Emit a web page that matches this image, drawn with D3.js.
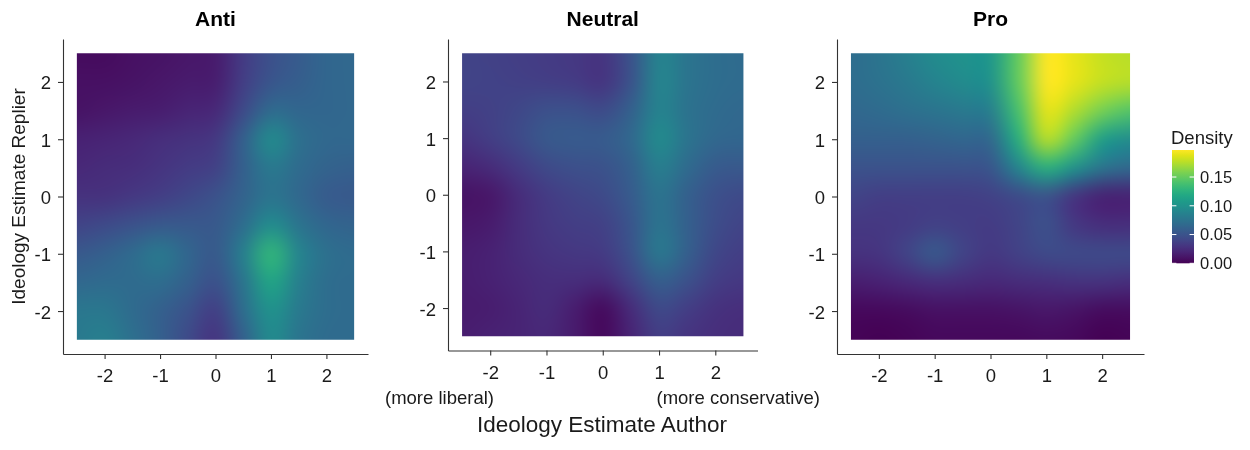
<!DOCTYPE html>
<html>
<head>
<meta charset="utf-8">
<script src="https://cdn.jsdelivr.net/npm/d3@7"></script>
<style>
    body { margin: 0; background: #fff; }
    #chart { position: relative; width: 1250px; height: 450px; }
    #chart canvas, #chart svg { position: absolute; left: 0; top: 0; }
    text { font-family: "Liberation Sans", Arial, sans-serif; }
</style>
</head>
<body>
<div id="chart"></div>
<script>
// Density grid: columns = author ideology, rows = replier ideology (top to bottom)
const gridX = [-2.5, -2, -1.5, -1, -0.5, 0, 0.5, 1, 1.5, 2, 2.5];
const gridY = [2.5, 2, 1.5, 1, 0.5, 0, -0.5, -1, -1.5, -2, -2.5];

const antiDensity = [
    [0.006, 0.006, 0.008, 0.010, 0.012, 0.014, 0.034, 0.048, 0.056, 0.064, 0.066],
    [0.008, 0.008, 0.010, 0.012, 0.014, 0.016, 0.036, 0.052, 0.058, 0.064, 0.066],
    [0.010, 0.012, 0.014, 0.016, 0.020, 0.022, 0.044, 0.068, 0.064, 0.064, 0.066],
    [0.018, 0.020, 0.022, 0.026, 0.028, 0.032, 0.060, 0.094, 0.072, 0.066, 0.066],
    [0.022, 0.024, 0.026, 0.030, 0.034, 0.038, 0.060, 0.080, 0.068, 0.062, 0.060],
    [0.028, 0.028, 0.032, 0.036, 0.042, 0.050, 0.062, 0.076, 0.066, 0.056, 0.054],
    [0.040, 0.044, 0.050, 0.054, 0.054, 0.054, 0.070, 0.096, 0.076, 0.064, 0.062],
    [0.054, 0.060, 0.068, 0.080, 0.064, 0.054, 0.084, 0.130, 0.090, 0.072, 0.068],
    [0.066, 0.068, 0.068, 0.070, 0.060, 0.048, 0.076, 0.116, 0.084, 0.070, 0.068],
    [0.078, 0.078, 0.068, 0.060, 0.050, 0.036, 0.070, 0.100, 0.080, 0.070, 0.068],
    [0.080, 0.084, 0.072, 0.060, 0.044, 0.030, 0.060, 0.094, 0.076, 0.068, 0.068]
];

const neutralDensity = [
    [0.040, 0.038, 0.036, 0.034, 0.032, 0.030, 0.050, 0.088, 0.076, 0.070, 0.068],
    [0.040, 0.039, 0.037, 0.036, 0.034, 0.030, 0.050, 0.090, 0.076, 0.070, 0.068],
    [0.036, 0.038, 0.042, 0.048, 0.048, 0.044, 0.060, 0.088, 0.074, 0.068, 0.066],
    [0.030, 0.036, 0.044, 0.054, 0.056, 0.056, 0.066, 0.094, 0.076, 0.066, 0.064],
    [0.020, 0.024, 0.034, 0.044, 0.048, 0.050, 0.060, 0.084, 0.068, 0.056, 0.054],
    [0.010, 0.012, 0.024, 0.034, 0.040, 0.044, 0.056, 0.076, 0.060, 0.048, 0.044],
    [0.012, 0.014, 0.024, 0.032, 0.036, 0.038, 0.052, 0.076, 0.060, 0.046, 0.040],
    [0.016, 0.018, 0.024, 0.030, 0.032, 0.034, 0.050, 0.080, 0.060, 0.042, 0.036],
    [0.016, 0.018, 0.022, 0.026, 0.026, 0.024, 0.040, 0.060, 0.050, 0.036, 0.032],
    [0.014, 0.016, 0.020, 0.024, 0.016, 0.006, 0.024, 0.044, 0.036, 0.028, 0.026],
    [0.016, 0.018, 0.020, 0.022, 0.014, 0.004, 0.020, 0.036, 0.030, 0.026, 0.024]
];

const proDensity = [
    [0.070, 0.076, 0.084, 0.094, 0.100, 0.104, 0.150, 0.200, 0.190, 0.180, 0.176],
    [0.070, 0.074, 0.080, 0.088, 0.094, 0.100, 0.150, 0.200, 0.190, 0.180, 0.176],
    [0.066, 0.068, 0.072, 0.076, 0.080, 0.084, 0.140, 0.190, 0.174, 0.156, 0.144],
    [0.060, 0.060, 0.060, 0.062, 0.064, 0.066, 0.124, 0.176, 0.150, 0.110, 0.096],
    [0.050, 0.050, 0.050, 0.050, 0.050, 0.052, 0.090, 0.124, 0.100, 0.076, 0.066],
    [0.040, 0.036, 0.036, 0.036, 0.036, 0.038, 0.044, 0.050, 0.030, 0.018, 0.018],
    [0.032, 0.032, 0.034, 0.038, 0.036, 0.034, 0.040, 0.048, 0.032, 0.026, 0.026],
    [0.028, 0.030, 0.040, 0.054, 0.040, 0.032, 0.038, 0.044, 0.044, 0.044, 0.044],
    [0.016, 0.018, 0.022, 0.026, 0.024, 0.022, 0.024, 0.026, 0.028, 0.028, 0.026],
    [0.004, 0.004, 0.006, 0.008, 0.008, 0.008, 0.010, 0.012, 0.010, 0.006, 0.006],
    [0.002, 0.000, 0.002, 0.004, 0.004, 0.004, 0.004, 0.006, 0.004, 0.000, 0.002]
];

const panelNames = ["Anti", "Neutral", "Pro"];
const axisTicks = [-2, -1, 0, 1, 2];
const legendTicks = [0, 0.05, 0.10, 0.15];
const densityMax = 0.197;

// Panel frames (pixels)
const frames = [
    { left: 63, right: 368, top: 39, bottom: 354 },
    { left: 448, right: 757.5, top: 39, bottom: 350.5 },
    { left: 837, right: 1144, top: 39, bottom: 354 }
];
const panelValues = [antiDensity, neutralDensity, proDensity];

const W = 1250, H = 450;
const step = gridX[1] - gridX[0];

const color = d3.scaleSequential(d3.interpolateViridis).domain([0, densityMax]);

const container = d3.select("#chart");
const canvas = container.append("canvas")
    .attr("width", W)
    .attr("height", H)
    .node();
const ctx = canvas.getContext("2d");

const svg = container.append("svg")
    .attr("width", W)
    .attr("height", H);

function styleAxis(g) {
    g.select(".domain").attr("stroke", "#333").attr("stroke-width", 1.1);
    g.selectAll(".tick line").attr("stroke", "#333").attr("stroke-width", 1.1);
    g.selectAll(".tick text")
        .attr("fill", "#1a1a1a")
        .style("font-size", "18.5px")
        .style("font-family", "'Liberation Sans', Arial, sans-serif");
}

panelNames.forEach((name, i) => {
    const f = frames[i];
    const values = panelValues[i];

    const x = d3.scaleLinear().domain([-2.75, 2.75]).range([f.left, f.right]);
    const y = d3.scaleLinear().domain([-2.75, 2.75]).range([f.bottom, f.top]);

    // Raster: one pixel per grid point, smoothed by the browser when scaled up
    const small = document.createElement("canvas");
    small.width = gridX.length;
    small.height = gridY.length;
    const sctx = small.getContext("2d");
    const img = sctx.createImageData(gridX.length, gridY.length);
    values.forEach((row, r) => {
        row.forEach((v, c) => {
            const rgb = d3.rgb(color(v));
            const k = (r * gridX.length + c) * 4;
            img.data[k] = rgb.r;
            img.data[k + 1] = rgb.g;
            img.data[k + 2] = rgb.b;
            img.data[k + 3] = 255;
        });
    });
    sctx.putImageData(img, 0, 0);

    const x0 = x(gridX[0]), x1 = x(gridX[gridX.length - 1]);
    const y0 = y(gridY[0]), y1 = y(gridY[gridY.length - 1]);
    ctx.save();
    ctx.beginPath();
    ctx.rect(x0, y0, x1 - x0, y1 - y0);
    ctx.clip();
    ctx.imageSmoothingEnabled = true;
    ctx.imageSmoothingQuality = "high";
    const ix0 = x(gridX[0] - step / 2), ix1 = x(gridX[gridX.length - 1] + step / 2);
    const iy0 = y(gridY[0] + step / 2), iy1 = y(gridY[gridY.length - 1] - step / 2);
    ctx.drawImage(small, ix0, iy0, ix1 - ix0, iy1 - iy0);
    ctx.restore();

    // Axes (plain hyphen minus, as in the original)
    svg.append("g")
        .attr("transform", `translate(0,${f.bottom})`)
        .call(d3.axisBottom(x).tickValues(axisTicks).tickSize(5).tickSizeOuter(0).tickPadding(10)
            .tickFormat(d => String(d)))
        .call(styleAxis);

    svg.append("g")
        .attr("transform", `translate(${f.left},0)`)
        .call(d3.axisLeft(y).tickValues(axisTicks).tickSize(5).tickSizeOuter(0).tickPadding(7)
            .tickFormat(d => String(d)))
        .call(styleAxis)
        .selectAll(".tick text").attr("dy", "0.38em");

    // Panel title
    svg.append("text")
        .attr("x", (f.left + f.right) / 2)
        .attr("y", 26)
        .attr("text-anchor", "middle")
        .style("font-size", "21px")
        .style("font-weight", "bold")
        .text(name);
});

// Axis titles and notes
svg.append("text")
    .attr("transform", "translate(25,196.5) rotate(-90)")
    .attr("text-anchor", "middle")
    .attr("fill", "#1a1a1a")
    .style("font-size", "19px")
    .text("Ideology Estimate Replier");

svg.append("text")
    .attr("x", 602)
    .attr("y", 431.5)
    .attr("text-anchor", "middle")
    .attr("fill", "#1a1a1a")
    .style("font-size", "22.5px")
    .text("Ideology Estimate Author");

svg.append("text")
    .attr("x", 385)
    .attr("y", 404)
    .attr("fill", "#1a1a1a")
    .style("font-size", "18.5px")
    .text("(more liberal)");

svg.append("text")
    .attr("x", 656.5)
    .attr("y", 404)
    .attr("fill", "#1a1a1a")
    .style("font-size", "18.5px")
    .text("(more conservative)");

// Legend colour bar
const legendX = 1172, legendW = 22;
const legendY = d3.scaleLinear().domain([0, densityMax]).range([263.3, 150]);

const grad = svg.append("defs").append("linearGradient")
    .attr("id", "density-grad")
    .attr("x1", 0).attr("y1", 1)
    .attr("x2", 0).attr("y2", 0);
d3.range(0, 1.0001, 0.05).forEach(t => {
    grad.append("stop")
        .attr("offset", t)
        .attr("stop-color", color(t * densityMax));
});

svg.append("text")
    .attr("x", 1171)
    .attr("y", 144)
    .attr("fill", "#1a1a1a")
    .style("font-size", "18.5px")
    .text("Density");

svg.append("rect")
    .attr("x", legendX)
    .attr("y", legendY(densityMax))
    .attr("width", legendW)
    .attr("height", legendY(0) - legendY(densityMax))
    .attr("fill", "url(#density-grad)");

const legendTick = svg.selectAll(".legend-tick")
    .data(legendTicks)
    .enter()
    .append("g")
    .attr("class", "legend-tick")
    .attr("transform", d => `translate(0,${legendY(d)})`);

legendTick.append("line")
    .attr("x1", legendX).attr("x2", legendX + 4.4)
    .attr("stroke", "#fff").attr("stroke-width", 1);

legendTick.append("line")
    .attr("x1", legendX + legendW - 4.4).attr("x2", legendX + legendW)
    .attr("stroke", "#fff").attr("stroke-width", 1);

legendTick.append("text")
    .attr("x", 1200)
    .attr("dy", "0.36em")
    .attr("fill", "#1a1a1a")
    .style("font-size", "16.5px")
    .text(d => d3.format(".2f")(d));
</script>
</body>
</html>
